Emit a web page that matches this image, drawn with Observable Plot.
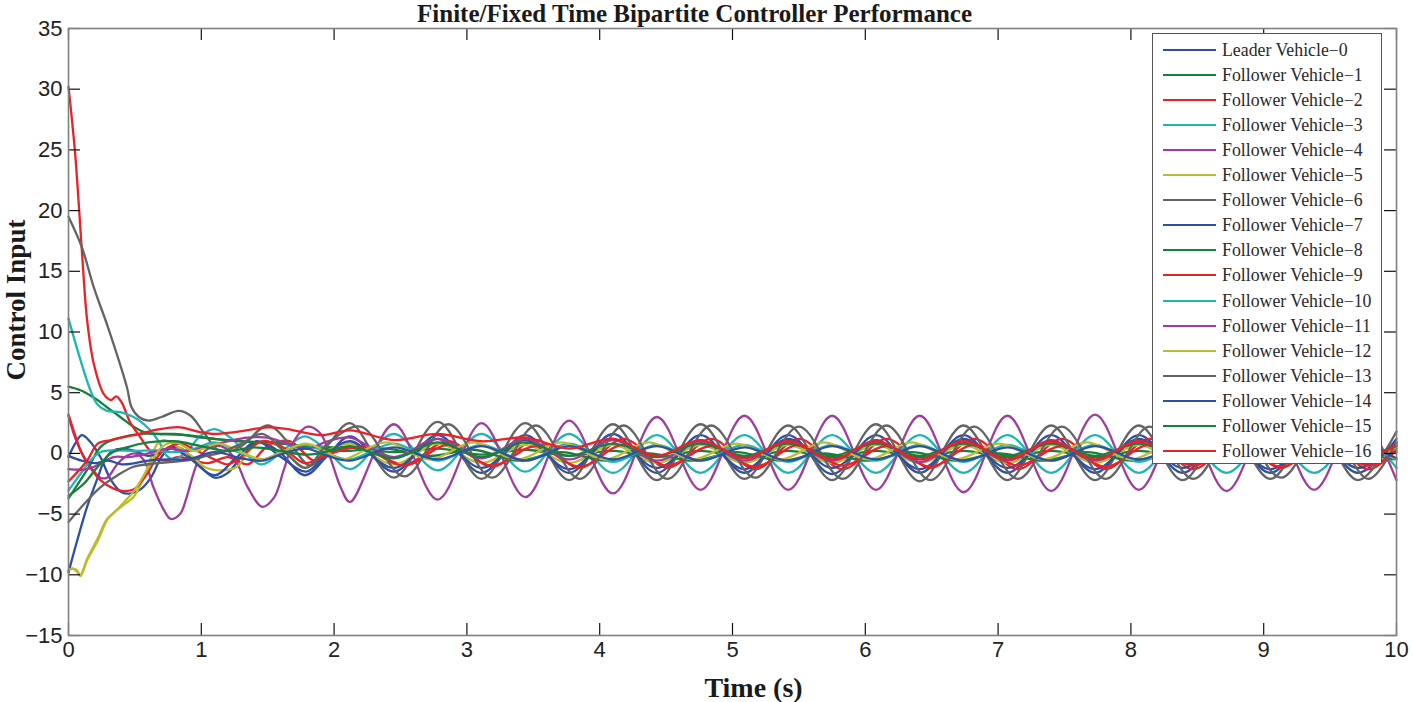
<!DOCTYPE html>
<html><head><meta charset="utf-8">
<script src="https://cdn.jsdelivr.net/npm/d3@7"></script>
<script src="https://cdn.jsdelivr.net/npm/@observablehq/plot@0.6"></script>
<style>
body{margin:0;background:#fff}
#wrap{position:relative;width:1413px;height:702px;overflow:hidden}
#legend{position:absolute;left:1152px;top:33px;width:230px;height:431px;background:#fff;border:1px solid #555;box-sizing:border-box;font-family:"Liberation Serif","Times New Roman",serif;font-size:17.8px;color:#2a2a2a}
.item{position:absolute;left:0;width:100%;height:0}
.sw{position:absolute;left:10px;top:-1px;width:53px;height:0;border-top:2.4px solid}
.lb{position:absolute;left:69px;top:-11px;white-space:nowrap;line-height:22px}
</style></head>
<body><div id="wrap"></div>
<script>
const names = ["Leader Vehicle\u22120"].concat(d3.range(1, 17).map(i => "Follower Vehicle\u2212" + i));
const colors = ["#2e4fa3","#18803c","#ec2027","#1fb5b5","#9e3d9e","#bcbc2e","#646464",
                "#2e4fa3","#18803c","#ec2027","#1fb5b5","#9e3d9e","#bcbc2e","#646464",
                "#2e4fa3","#18803c","#ec2027"];
const xTicks = [0,1,2,3,4,5,6,7,8,9,10];
const yTicks = [-15,-10,-5,0,5,10,15,20,25,30,35];

// transient phase [time, value]
const tr0 = [[0,-0.3],[0.05,0.8],[0.1,1.5],[0.16,1.0],[0.24,-0.3],[0.32,-2.2],[0.4,-3.2],[0.47,-3.3],[0.55,-2.9],[0.62,-2.0],[0.7,-0.3],[0.77,0.5],[0.85,0.4],[0.95,-0.6],[1.1,-2.0],[1.2,-1.6],[1.3,-0.3],[1.42,0.9],[1.58,0.2],[1.78,-1.8],[1.95,-0.2]];
const tr1 = [[0,5.5],[0.09,5.2],[0.19,4.6],[0.29,3.8],[0.39,3.0],[0.49,2.2],[0.57,1.75],[0.67,1.6],[0.8,1.6],[1.0,1.3],[1.2,1.1],[1.4,0.9],[1.6,0.8],[1.8,0.6],[2.0,0.5]];
const tr2 = [[0,30.2],[0.05,24.7],[0.1,16.8],[0.14,11.0],[0.19,7.4],[0.265,4.9],[0.32,4.4],[0.36,4.7],[0.4,4.2],[0.467,2.5],[0.53,1.5],[0.6,0.4],[0.66,-0.4],[0.74,-0.6],[0.82,-0.3],[0.92,-0.5],[1.05,-0.8],[1.2,-0.3],[1.35,-0.9],[1.5,0.6],[1.67,1.0],[1.85,-0.6],[2.0,0.1]];
const tr3 = [[0,11.1],[0.09,7.7],[0.165,5.2],[0.22,4.0],[0.29,3.5],[0.39,3.4],[0.49,3.0],[0.57,2.4],[0.64,1.6],[0.69,0.8],[0.74,-0.2],[0.8,-0.5],[0.9,0.3],[1.0,1.5],[1.1,2.0],[1.22,1.3],[1.45,-0.9],[1.62,0.3],[1.78,1.4],[1.95,0.2]];
const tr4 = [[0,3.1],[0.04,1.6],[0.09,0.25],[0.165,-1.1],[0.24,-2.0],[0.29,-2.0],[0.37,-0.85],[0.44,-0.2],[0.5,0],[0.57,-0.6],[0.64,-2.8],[0.72,-4.7],[0.77,-5.4],[0.84,-5.0],[0.89,-3.6],[0.94,-1.7],[0.99,-0.3],[1.07,0.5],[1.17,0.5],[1.26,-0.6],[1.35,-2.8],[1.46,-4.4],[1.55,-3.6],[1.62,-1.4],[1.7,1.05],[1.8,2.2],[1.9,1.6],[1.97,-0.3],[2.05,-2.8]];
const tr5 = [[0,-9.6],[0.03,-9.5],[0.06,-9.7],[0.09,-10.1],[0.14,-8.8],[0.22,-7.2],[0.29,-5.5],[0.33,-5.0],[0.42,-4.2],[0.49,-3.6],[0.565,-2.0],[0.62,-0.4],[0.67,0.8],[0.72,1.1],[0.8,0.7],[0.94,-0.3],[1.02,-1.1],[1.14,-1.4],[1.27,-1.1],[1.35,0.1],[1.45,0.9],[1.6,0.5],[1.78,-1.2],[1.95,0.2]];
const tr6 = [[0,19.5],[0.1,17.0],[0.19,13.7],[0.3,10.3],[0.44,5.45],[0.475,3.8],[0.53,3.0],[0.6,2.7],[0.7,3.0],[0.83,3.5],[0.92,3.1],[1.02,1.7],[1.14,0.2],[1.3,0.6],[1.5,2.3],[1.68,0.6],[1.82,-1.0],[1.97,0.9]];
const tr7 = [[0,-9.8],[0.065,-7.2],[0.14,-4.4],[0.22,-2.0],[0.27,-0.6],[0.33,0.2],[0.4,0.4],[0.5,0.2],[0.6,-0.2],[0.7,0.1],[0.78,0.4],[0.9,-0.3],[1.1,-1.8],[1.25,-0.5],[1.42,1.0],[1.6,-0.3],[1.79,-1.5],[1.95,0]];
const tr8 = [[0,-3.7],[0.09,-2.2],[0.165,-0.9],[0.22,0.25],[0.27,0.8],[0.39,1.3],[0.54,1.6],[0.69,1.6],[0.89,1.5],[1.1,1.2],[1.3,1.0],[1.5,0.9],[1.7,0.7],[1.9,0.4]];
const tr9 = [[0,3.2],[0.05,1.5],[0.1,0.0],[0.14,-0.8],[0.24,-2.2],[0.34,-2.9],[0.42,-3.1],[0.5,-2.9],[0.59,-1.7],[0.67,-0.3],[0.75,0.5],[0.85,0.8],[0.95,0.3],[1.1,-0.5],[1.2,-0.9],[1.3,-0.3],[1.45,1.0],[1.6,0.6],[1.78,-0.8],[1.95,-0.1]];
const tr10 = [[0,-3.05],[0.09,-1.7],[0.165,-0.6],[0.24,0.1],[0.35,0.25],[0.5,0.2],[0.65,0.25],[0.8,0.1],[0.95,0.4],[1.1,0.9],[1.28,0.1],[1.46,-0.5],[1.62,0.2],[1.79,0.7],[1.95,0.0]];
const tr11 = [[0,-1.3],[0.14,-1.3],[0.24,-0.85],[0.34,-0.3],[0.45,-0.3],[0.6,0.0],[0.75,0.4],[0.9,0.2],[1.05,0.6],[1.2,1.0],[1.35,1.3],[1.5,1.3],[1.65,0.8],[1.8,0.4],[1.95,1.0]];
const tr12 = [[0,-9.6],[0.03,-9.5],[0.06,-9.6],[0.09,-10.0],[0.14,-8.7],[0.22,-7.0],[0.29,-5.4],[0.35,-4.8],[0.42,-4.0],[0.5,-3.0],[0.6,-1.2],[0.7,0.5],[0.8,0.9],[0.95,0.2],[1.13,0.8],[1.3,0.1],[1.46,-0.5],[1.62,0.2],[1.79,0.8],[1.95,0.1]];
const tr13 = [[0,-5.65],[0.14,-3.9],[0.24,-2.8],[0.37,-1.8],[0.49,-1.1],[0.64,-0.85],[0.79,-0.7],[0.94,-0.5],[1.04,-0.2],[1.13,0.0],[1.3,0.8],[1.46,1.6],[1.62,0.2],[1.79,-1.2],[1.95,0.8]];
const tr14 = [[0,-0.2],[0.1,-0.6],[0.2,-0.8],[0.3,-0.6],[0.4,-0.9],[0.5,-0.8],[0.6,-0.6],[0.75,-0.5],[0.9,-0.5],[1.1,0.1],[1.3,-0.4],[1.46,-0.6],[1.62,0.0],[1.79,0.4],[1.95,-0.2]];
const tr15 = [[0,-3.5],[0.115,-2.5],[0.22,-1.1],[0.32,0.0],[0.44,0.5],[0.6,0.9],[0.8,1.0],[1.0,0.6],[1.2,0.2],[1.4,0.5],[1.6,0.2],[1.8,-0.1],[2.0,0.3]];
const tr16 = [[0,-2.3],[0.14,-0.6],[0.22,0.8],[0.32,1.1],[0.49,1.5],[0.69,2.0],[0.84,2.15],[0.99,1.75],[1.09,1.6],[1.25,1.75],[1.5,2.15],[1.65,2.0],[1.9,1.5]];

// steady oscillation, read at these sample times (three phase groups)
const tS = [2.12,2.45,2.78,3.11,3.44,3.77,4.10,4.43,4.76,5.09,5.42,5.75,6.08,6.41,6.74,7.07,7.40,7.73,8.06,8.39,8.72,9.05,9.38,9.71,10.0];
const tLag = [2.20,2.53,2.86,3.19,3.52,3.85,4.18,4.51,4.84,5.17,5.50,5.83,6.16,6.49,6.82,7.15,7.48,7.81,8.14,8.47,8.80,9.13,9.46,9.79,10.0];
const tLead = [2.06,2.39,2.72,3.05,3.38,3.71,4.04,4.37,4.70,5.03,5.36,5.69,6.02,6.35,6.68,7.01,7.34,7.67,8.00,8.33,8.66,8.99,9.32,9.65,9.98];
const ss0 = [1.4,-1.5,1.5,-1.6,1.5,-1.6,1.6,-1.6,1.5,-1.6,1.5,-1.7,1.5,-1.6,1.5,-1.6,1.5,-1.6,1.5,-1.6,1.5,-1.6,1.5,-1.6,1.2];
const ss1 = [0.5,0.1,0.4,-0.1,0.3,-0.2,0.2,-0.3,0.2,-0.3,0.2,-0.3,0.2,-0.3,0.2,-0.3,0.2,-0.3,0.2,-0.3,0.2,-0.3,0.2,-0.3,0.1];
const ss2 = [0.6,-0.9,1.0,-1.1,1.1,-1.2,1.2,-1.2,1.2,-1.3,1.2,-1.3,1.2,-1.2,1.2,-1.3,1.2,-1.3,1.2,-1.3,1.2,-1.2,1.2,-1.3,0.4];
const ss3 = [-1.3,1.6,-1.4,1.6,-1.5,1.6,-1.6,1.5,-1.6,1.5,-1.6,1.5,-1.6,1.5,-1.6,1.5,-1.6,1.5,-1.6,1.5,-1.6,1.5,-1.6,1.5,-1.2];
const ss4 = [-4.0,2.4,-3.8,2.5,-3.6,2.7,-3.3,3.0,-3.0,3.1,-3.0,3.1,-3.0,3.1,-3.2,3.1,-3.1,3.2,-3.0,3.1,-3.1,3.0,-3.0,3.1,-2.2];
const ss5 = [0.8,-0.9,0.8,-0.8,0.7,-0.8,0.7,-0.8,0.7,-0.8,0.7,-0.8,0.7,-0.8,0.7,-0.8,0.7,-0.8,0.7,-0.8,0.7,-0.8,0.7,-0.8,0.5];
const ss6 = [2.5,-2.0,2.6,-2.1,2.5,-2.2,2.4,-2.2,2.4,-2.1,2.3,-2.2,2.4,-2.3,2.3,-2.2,2.3,-2.2,2.3,-2.2,2.3,-2.1,2.3,-2.2,1.8];
const ss7 = [1.0,-1.2,1.2,-1.2,1.1,-1.3,1.2,-1.2,1.1,-1.3,1.2,-1.2,1.1,-1.3,1.2,-1.2,1.1,-1.3,1.2,-1.2,1.1,-1.3,1.2,-1.2,0.9];
const ss8 = [0.2,0.4,-0.2,0.3,-0.6,0.1,-0.6,0.0,-0.6,0.1,-0.6,0.0,-0.6,0.1,-0.6,0.0,-0.6,0.1,-0.6,0.0,-0.6,0.1,-0.6,0.0,-0.5];
const ss9 = [0.5,-1.0,0.7,-1.0,0.6,-1.1,0.7,-1.0,0.6,-1.1,0.7,-1.0,0.6,-1.1,0.7,-1.0,0.6,-1.1,0.7,-1.0,0.6,-1.1,0.7,-1.0,0.2];
const ss10 = [-0.5,0.8,-0.6,0.7,-0.6,0.8,-0.7,0.7,-0.6,0.7,-0.7,0.7,-0.6,0.7,-0.7,0.7,-0.6,0.7,-0.7,0.7,-0.6,0.7,-0.7,0.7,-0.5];
const ss11 = [1.3,-0.3,1.2,-0.4,1.2,-0.5,1.1,-0.6,1.0,-0.6,1.0,-0.6,1.0,-0.7,1.0,-0.6,1.0,-0.6,1.0,-0.7,1.0,-0.6,1.0,-0.7,0.8];
const ss12 = [-0.5,0.9,-0.5,0.9,-0.5,0.9,-0.5,0.9,-0.5,0.8,-0.5,0.9,-0.5,0.9,-0.5,0.8,-0.5,0.9,-0.5,0.9,-0.5,0.8,-0.5,0.9,-0.4];
const ss13 = [2.2,-1.9,2.4,-2.0,2.3,-2.1,2.3,-2.1,2.3,-2.0,2.2,-2.1,2.3,-2.2,2.2,-2.1,2.2,-2.1,2.2,-2.1,2.2,-2.0,2.2,-2.1,1.0];
const ss14 = [-0.6,0.5,-0.5,0.6,-0.6,0.6,-0.5,0.6,-0.6,0.5,-0.6,0.6,-0.5,0.6,-0.6,0.5,-0.6,0.6,-0.5,0.6,-0.6,0.5,-0.6,0.6,-0.4];
const ss15 = [0.6,-0.4,0.9,-0.3,0.9,-0.2,0.8,-0.2,0.8,-0.2,0.8,-0.2,0.8,-0.2,0.8,-0.2,0.8,-0.2,0.8,-0.2,0.8,-0.2,0.8,-0.2,0.6];
const ss16 = [1.9,1.1,1.6,1.0,1.3,0.4,1.2,-0.2,1.1,-0.4,1.0,-0.5,1.0,-0.5,1.0,-0.5,1.0,-0.5,1.0,-0.5,1.0,-0.5,1.0,-0.5,0.7];

const transients = [tr0,tr1,tr2,tr3,tr4,tr5,tr6,tr7,tr8,tr9,tr10,tr11,tr12,tr13,tr14,tr15,tr16];
const steadies = [ss0,ss1,ss2,ss3,ss4,ss5,ss6,ss7,ss8,ss9,ss10,ss11,ss12,ss13,ss14,ss15,ss16];
const steadyTimes = [tS,tS,tLag,tS,tS,tS,tS,tS,tLead,tLag,tS,tS,tLead,tLag,tS,tS,tS];

const rows = [];
names.forEach((name, k) => {
  transients[k].forEach(([t, v]) => rows.push({name, t, v}));
  steadies[k].forEach((v, i) => rows.push({name, t: steadyTimes[k][i], v}));
});

const W = 1413, H = 702, mL = 68, mR = 17, mT = 28, mB = 67;
const frameW = W - mL - mR, frameH = H - mT - mB, tickLen = 12;
const serif = "'Liberation Serif', 'Times New Roman', serif";

const chart = Plot.plot({
  width: W, height: H,
  marginLeft: mL, marginRight: mR, marginTop: mT, marginBottom: mB,
  x: {domain: [0, 10]},
  y: {domain: [-15, 35]},
  color: {domain: names, range: colors},
  style: {fontFamily: "'Liberation Sans', Arial, sans-serif", fontSize: "22px", color: "#222", background: "#fff"},
  marks: [
    Plot.line(rows, {x: "t", y: "v", z: "name", stroke: "name", curve: "catmull-rom", strokeWidth: 2.3}),
    Plot.ruleY(yTicks, {y: d => d, insetRight: frameW - tickLen, stroke: "#111", strokeWidth: 1.2}),
    Plot.ruleY(yTicks, {y: d => d, insetLeft: frameW - tickLen, stroke: "#111", strokeWidth: 1.2}),
    Plot.ruleX(xTicks, {x: d => d, insetTop: frameH - tickLen, stroke: "#111", strokeWidth: 1.2}),
    Plot.ruleX(xTicks, {x: d => d, insetBottom: frameH - tickLen, stroke: "#111", strokeWidth: 1.2}),
    Plot.frame({stroke: "#808080", strokeWidth: 1.6}),
    Plot.axisX({ticks: xTicks, tickSize: 0, tickPadding: 6, label: null, fontSize: 22}),
    Plot.axisY({ticks: yTicks, tickSize: 0, tickPadding: 6, label: null, fontSize: 22}),
    Plot.text(["Finite/Fixed Time Bipartite Controller Performance"], {frameAnchor: "top", dx: -38, dy: -24, fontFamily: serif, fontWeight: "bold", fontSize: 25, fill: "#1a1a1a"}),
    Plot.text(["Control Input"], {frameAnchor: "left", textAnchor: "middle", lineAnchor: "middle", dx: -52, dy: -32, rotate: -90, fontFamily: serif, fontWeight: "bold", fontSize: 27, fill: "#1a1a1a"}),
    Plot.text(["Time (s)"], {frameAnchor: "bottom", dx: 21, dy: 61, fontFamily: serif, fontWeight: "bold", fontSize: 28, fill: "#1a1a1a"})
  ]
});

const wrap = document.getElementById("wrap");
wrap.appendChild(chart);

const legend = document.createElement("div");
legend.id = "legend";
names.forEach((name, k) => {
  const item = document.createElement("div");
  item.className = "item";
  item.style.top = (16 + k * 25.05) + "px";
  const sw = document.createElement("div");
  sw.className = "sw";
  sw.style.borderTopColor = colors[k];
  const lb = document.createElement("div");
  lb.className = "lb";
  lb.textContent = name;
  item.appendChild(sw);
  item.appendChild(lb);
  legend.appendChild(item);
});
wrap.appendChild(legend);
</script>
</body></html>
